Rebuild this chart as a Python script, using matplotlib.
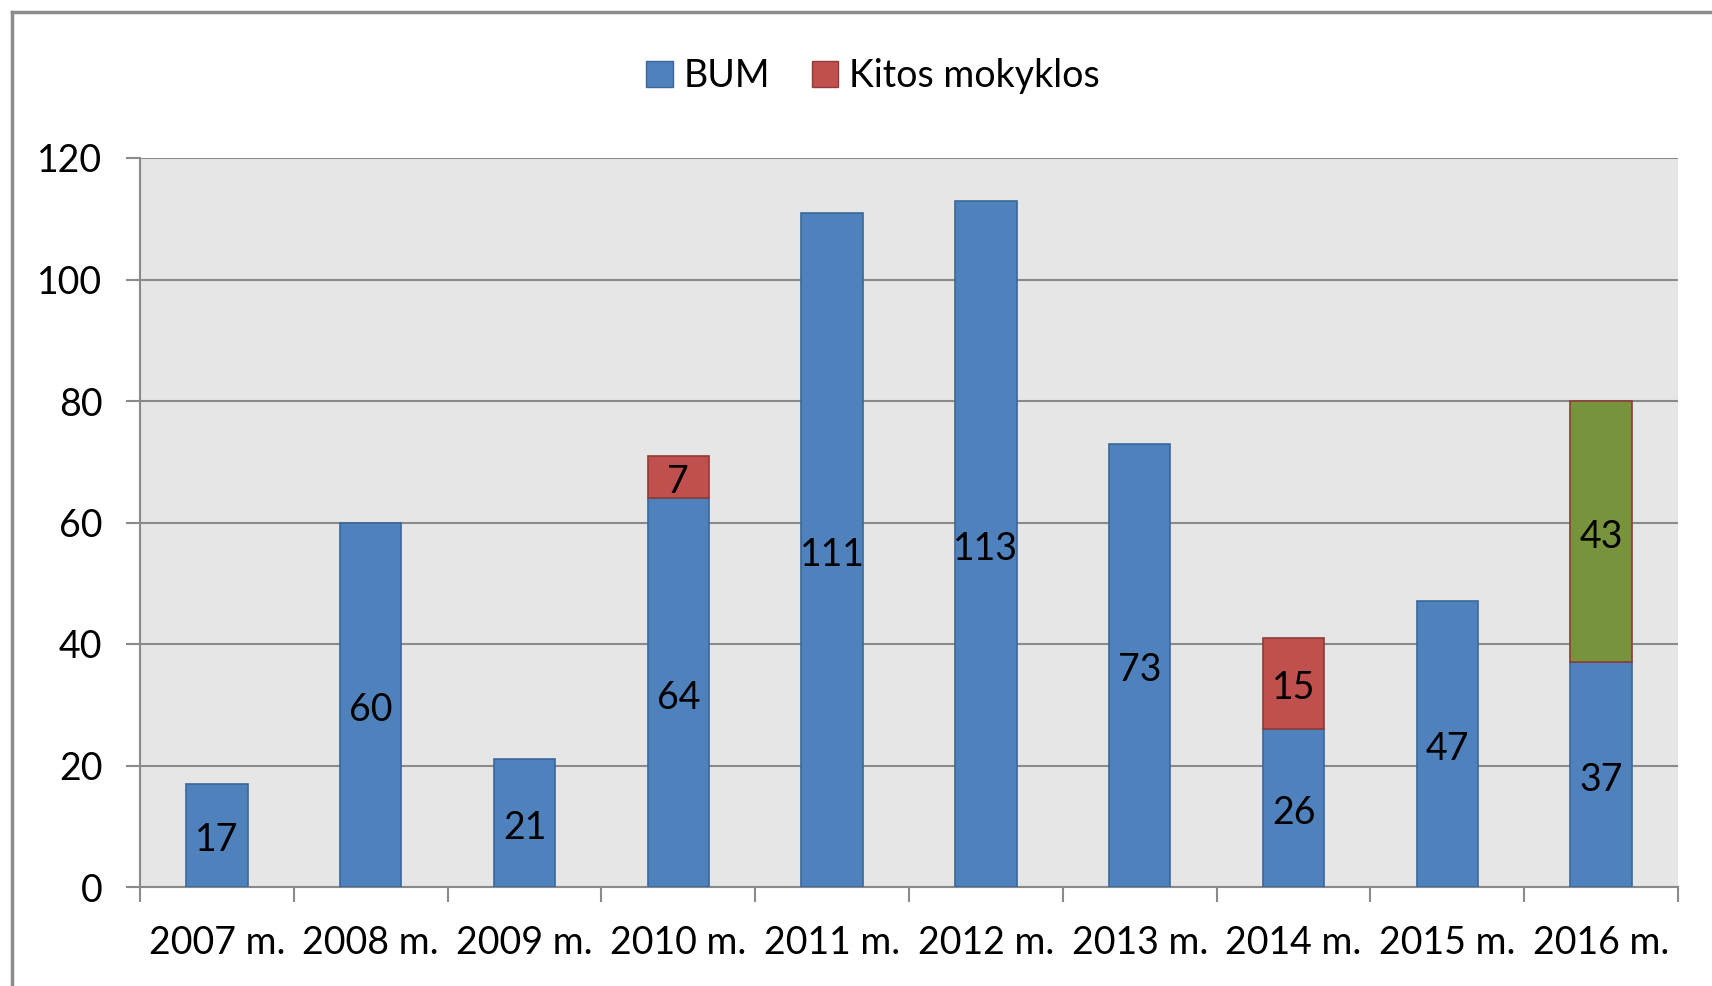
import matplotlib.pyplot as plt
import matplotlib.transforms as mtransforms
from matplotlib.lines import Line2D
from matplotlib.patches import Patch
import numpy as np

plt.rcParams['font.family'] = ['Lato', 'DejaVu Sans']

# duomenys
years = ['2007 m.', '2008 m.', '2009 m.', '2010 m.', '2011 m.',
         '2012 m.', '2013 m.', '2014 m.', '2015 m.', '2016 m.']
bum = [17, 60, 21, 64, 111, 113, 73, 26, 47, 37]
kitos = [0, 0, 0, 7, 0, 0, 0, 15, 0, 43]
yticks = [0, 20, 40, 60, 80, 100, 120]

blue, blue_edge = '#4F81BD', '#3B679A'
red, red_edge = '#C0504D', '#8E3B39'
green = '#77933C'
fs = 27

fig = plt.figure(figsize=(17.12, 9.86), dpi=100)
ax = fig.add_axes([140 / 1712, 1 - 887 / 986, (1678 - 140) / 1712, (887 - 158) / 986])
ax.set_facecolor('#E6E6E6')

x = np.arange(len(years))
ax.bar(x, bum, width=0.40, color=blue, edgecolor=blue_edge, linewidth=1.2, zorder=3)
kcolors = [green if i == len(years) - 1 else red for i in range(len(years))]
for i in range(len(years)):
    if kitos[i] > 0:
        ax.bar(x[i], kitos[i], bottom=bum[i], width=0.40, color=kcolors[i],
               edgecolor=red_edge, linewidth=1.2, zorder=3)

# reikšmės ant stulpelių (šiek tiek žemiau centro)
tr = mtransforms.offset_copy(ax.transData, fig=fig, x=0, y=-5, units='dots')
for i in range(len(years)):
    ax.text(x[i], bum[i] / 2, str(bum[i]), ha='center', va='center',
            fontsize=fs, color='black', zorder=4, transform=tr)
    if kitos[i] > 0:
        ax.text(x[i], bum[i] + kitos[i] / 2, str(kitos[i]), ha='center', va='center',
                fontsize=fs, color='black', zorder=4, transform=tr)

ax.set_xlim(-0.5, len(years) - 0.5)
ax.set_ylim(0, 120)
ax.set_yticks(yticks)
ax.set_yticklabels([str(v) for v in yticks])
ax.yaxis.grid(True, color='#8A8A8A', linewidth=1.5, zorder=1)
ax.set_axisbelow(True)

ax.set_xticks(x)
ax.set_xticklabels(years)
ax.set_xticks(np.arange(-0.5, len(years)), minor=True)
ax.tick_params(axis='x', which='major', length=0, pad=27, labelsize=fs)
ax.tick_params(axis='x', which='minor', length=11, width=1.5, color='#8A8A8A', direction='out')
ax.tick_params(axis='y', length=10, width=1.5, color='#8A8A8A', pad=17, labelsize=fs)

for s in ['top', 'right']:
    ax.spines[s].set_visible(False)
for s in ['left', 'bottom']:
    ax.spines[s].set_color('#8A8A8A')
    ax.spines[s].set_linewidth(1.5)

handles = [Patch(facecolor=blue, edgecolor=blue_edge, label='BUM'),
           Patch(facecolor=red, edgecolor=red_edge, label='Kitos mokyklos')]
fig.legend(handles=handles, loc='center', bbox_to_anchor=(873 / 1712, 1 - 76 / 986),
           ncol=2, frameon=False, fontsize=fs, handlelength=0.7, handleheight=0.7,
           handletextpad=0.3, columnspacing=1.1)

# rėmelis
fig.add_artist(Line2D([12 / 1712, 12 / 1712], [0, 1 - 12 / 986], color='#8C8C8C', linewidth=2.5))
fig.add_artist(Line2D([12 / 1712, 1], [1 - 12 / 986, 1 - 12 / 986], color='#8C8C8C', linewidth=2.5))

fig.savefig('out.png', dpi=100)
